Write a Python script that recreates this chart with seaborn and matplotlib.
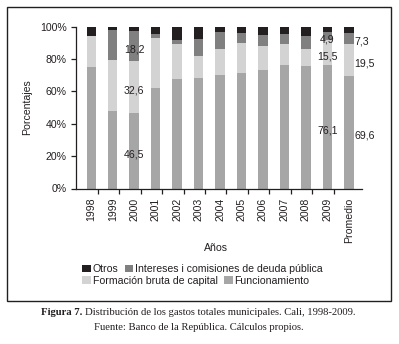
import matplotlib
matplotlib.use("Agg")
import matplotlib.pyplot as plt
from matplotlib import font_manager
from matplotlib.patches import Patch, Rectangle
import seaborn as sns
import numpy as np
import pandas as pd

# ---------------- data ----------------
categories = ["1998", "1999", "2000", "2001", "2002", "2003", "2004",
              "2005", "2006", "2007", "2008", "2009", "Promedio"]
funcionamiento = [75.2, 47.8, 46.5, 62.1, 67.7, 68.3, 70.4, 71.6, 73.3, 76.4, 75.8, 76.1, 69.6]
formacion      = [19.2, 31.7, 32.6, 31.0, 21.7, 13.7, 15.9, 18.5, 14.9, 13.2, 10.5, 15.5, 19.5]
intereses      = [0.0, 18.2, 18.2, 2.4, 2.1, 10.1, 10.2, 6.2, 6.4, 5.6, 8.1, 4.9, 7.3]
otros          = [5.6, 2.3, 2.7, 4.5, 8.5, 7.9, 3.5, 3.7, 5.4, 4.8, 5.6, 3.5, 3.6]
series_names = ["Otros", "Intereses i comisiones de deuda pública",
                "Formación bruta de capital", "Funcionamiento"]
yticks = [0, 20, 40, 60, 80, 100]
labelled = {"2000": "center", "2009": "center", "Promedio": "left"}

colors = {"Otros": "#231f20",
          "Intereses i comisiones de deuda pública": "#808080",
          "Formación bruta de capital": "#d3d3d3",
          "Funcionamiento": "#a6a6a6"}

# ---------------- fonts ----------------
sns.set_theme(style="white")
available = set(font_manager.get_font_names())
sans = [f for f in ["Liberation Sans Narrow", "Liberation Sans", "DejaVu Sans"] if f in available]
serif = [f for f in ["Liberation Serif", "DejaVu Serif"] if f in available]
plt.rcParams["font.family"] = sans
narrow = sans[0] == "Liberation Sans Narrow"
FS = 8.6 if narrow else 7.6
TXT = "#231f20"

df = pd.DataFrame({"cat": categories, "F": funcionamiento, "B": formacion,
                   "I": intereses, "O": otros})
df["c1"] = df["F"]
df["c2"] = df["F"] + df["B"]
df["c3"] = df["c2"] + df["I"]
df["c4"] = df["c3"] + df["O"]

W, H = 399, 344
fig = plt.figure(figsize=(W / 100, H / 100), dpi=100)
ax = fig.add_axes([76 / W, (H - 188.5) / H, (361.7 - 76) / W, (188.5 - 26.7) / H])

bw = 0.44
for col, name in [("c4", series_names[0]), ("c3", series_names[1]),
                  ("c2", series_names[2]), ("c1", series_names[3])]:
    sns.barplot(data=df, x="cat", y=col, color=colors[name], width=bw,
                saturation=1, ax=ax, linewidth=0, edgecolor="none")

ax.set_xlim(-0.71, 12.6)
ax.set_ylim(0, 100)
ax.set_yticks(yticks)
ax.set_yticklabels([f"{v}%" for v in yticks])
sns.despine(ax=ax)
for s in ["left", "bottom"]:
    ax.spines[s].set_color("#231f20")
    ax.spines[s].set_linewidth(0.9)

ax.tick_params(axis="y", direction="out", length=3.6, width=0.9, color=TXT,
               pad=3.0, labelsize=FS, labelcolor=TXT, left=True)
ax.tick_params(axis="x", which="major", length=0, pad=6.8, labelsize=FS,
               labelcolor=TXT, labelrotation=90)
ax.set_xticks(np.arange(len(categories)))
ax.set_xticklabels(categories, va="top", ha="center")
ax.set_xticks(np.arange(len(categories) - 1) + 0.3, minor=True)
ax.tick_params(axis="x", which="minor", direction="out", length=3.6, width=0.9,
               color=TXT, bottom=True)

ax.set_ylabel("Porcentajes", fontsize=FS, color=TXT)
ax.yaxis.set_label_coords(-0.1715, 0.5)
ax.set_xlabel("Años", fontsize=FS, color=TXT)
ax.xaxis.set_label_coords(0.49, -0.366)
ax.xaxis.label.set_va("center")
ax.yaxis.label.set_va("center")

# data labels
for i, cat in enumerate(categories):
    if cat not in labelled:
        continue
    ha = labelled[cat]
    xpos = i if ha == "center" else i + 0.26
    f, b, it = funcionamiento[i], formacion[i], intereses[i]
    for val, mid in [(it, f + b + it / 2), (b, f + b / 2), (f, f / 2)]:
        ax.text(xpos, mid - 2, f"{val:.1f}".replace(".", ","), ha=ha, va="center",
                fontsize=FS, color=TXT)

# legends (two flowing rows)
def handles(names):
    return [Patch(facecolor=colors[n], edgecolor="none", label=n) for n in names]

common = dict(frameon=False, fontsize=FS, handlelength=0.8, handleheight=0.7,
              handletextpad=0.2, columnspacing=0.6, borderpad=0, borderaxespad=0,
              loc="center left", labelcolor=TXT)
fig.legend(handles=handles(series_names[:2]), ncol=2,
           bbox_to_anchor=(82.3 / W, (H - 269) / H), **common)
fig.legend(handles=handles(series_names[2:]), ncol=2,
           bbox_to_anchor=(82.3 / W, (H - 280.7) / H), **common)

# frame around chart
fig.patches.append(Rectangle((7 / W, (H - 300.5) / H), (391 - 7) / W, (300.5 - 7) / H,
                             transform=fig.transFigure, fill=False,
                             edgecolor="#231f20", linewidth=1.0))

# caption (centred under the frame)
cap_fs = 7.7
cx = 198.5
fig.canvas.draw()
r = fig.canvas.get_renderer()
t1 = fig.text(0, (H - 312.7) / H, "Figura 7.", family=serif, fontweight="bold",
              fontsize=cap_fs, color=TXT, va="center", ha="left")
t2 = fig.text(0, (H - 312.7) / H,
              "Distribución de los gastos totales municipales. Cali, 1998-2009.",
              family=serif, fontsize=cap_fs, color=TXT, va="center", ha="left")
w1 = t1.get_window_extent(r).width
w2 = t2.get_window_extent(r).width
gap = 3
x0 = cx - (w1 + gap + w2) / 2
t1.set_x(x0 / W)
t2.set_x((x0 + w1 + gap) / W)
fig.text(cx / W, (H - 328) / H, "Fuente: Banco de la República. Cálculos propios.",
         family=serif, fontsize=cap_fs, color=TXT, va="center", ha="center")

fig.savefig("out.png", dpi=100)
